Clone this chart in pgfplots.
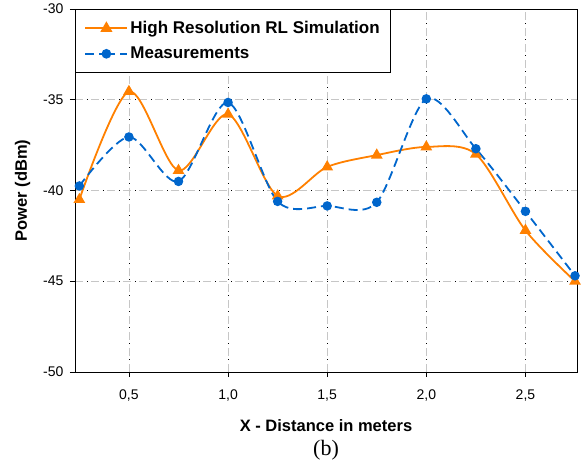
\documentclass[border=0pt]{standalone}
\usepackage{pgfplots}
\pgfplotsset{compat=1.18}
\usepackage{fontspec}
\setmainfont{Liberation Sans}
\newfontfamily\serif{Liberation Serif}
\definecolor{simorange}{RGB}{255,128,0}
\definecolor{measblue}{RGB}{0,102,204}
\begin{document}
\begin{tikzpicture}[x=1pt,y=1pt]
\begin{axis}[name=ax,
  scale only axis, width=502pt, height=363pt,
  xmin=0.228, xmax=2.76, ymin=-50, ymax=-30,
  xtick={0.5,1,1.5,2,2.5}, ytick={-50,-45,-40,-35,-30},
  /pgf/number format/assume math mode=true,
  tick label style={font=\fontsize{14}{16}\selectfont},
  x tick label style={/pgf/number format/.cd, use comma, fixed, fixed zerofill, precision=1, /tikz/.cd},
  every x tick label/.append style={yshift=-9pt},
  yticklabel style={xshift=-3pt},
  tick align=outside, major tick length=5pt,
  xtick pos=bottom, ytick pos=left,
  tick style={black, line width=0.8pt},
  grid=major,
  major grid style={draw=gray!45, line width=0.8pt, dash pattern=on 8pt off 8pt,
     postaction={draw=black, line width=0.8pt, dash pattern=on 0pt off 12pt on 1pt off 3pt}},
  axis line style={black, line width=0.8pt},
  xlabel={\textbf{X - Distance in meters}\\[6pt]{\serif\fontsize{22}{24}\selectfont (b)}},
  xlabel style={align=center, font=\fontsize{16.5}{18}\selectfont, yshift=-12pt},
  ylabel={\textbf{Power (dBm)}},
  ylabel style={font=\fontsize{16.5}{18}\selectfont, yshift=6pt},
  legend style={at={(0,1)}, anchor=north west, draw=black, line width=0.8pt,
    font=\bfseries\fontsize{17}{19}\selectfont, row sep=8pt,
    inner xsep=9pt, inner ysep=10pt, fill=white},
  legend cell align=left,
  legend image code/.code={\draw[#1, line width=2pt] (0pt,0pt) -- (21pt,0pt) plot coordinates {(21pt,0pt)} -- (42pt,0pt);},
]
\addplot[simorange, line width=1.8pt, smooth, tension=0.5, mark=triangle*,
  mark size=5pt, mark options={solid, fill=simorange}] coordinates {
(0.25,-40.5) (0.5,-34.55) (0.75,-38.9) (1.0,-35.8) (1.25,-40.3) (1.5,-38.7)
(1.75,-38.05) (2.0,-37.6) (2.25,-38.0) (2.5,-42.2) (2.75,-45.0)};
\addlegendentry{High Resolution RL Simulation}
\addplot[measblue, line width=1.8pt, smooth, tension=0.5, dash pattern=on 9pt off 5pt,
  mark=*, mark size=3.8pt, mark options={solid, fill=measblue}] coordinates {
(0.25,-39.75) (0.5,-37.05) (0.75,-39.5) (1.0,-35.15) (1.25,-40.6) (1.5,-40.85)
(1.75,-40.65) (2.0,-34.95) (2.25,-37.7) (2.5,-41.15) (2.75,-44.7)};
\addlegendentry{Measurements}
\end{axis}
\path (ax.south west) ++(-75pt,-92pt) rectangle ([xshift=9pt,yshift=9pt]ax.north east);
\end{tikzpicture}
\end{document}
